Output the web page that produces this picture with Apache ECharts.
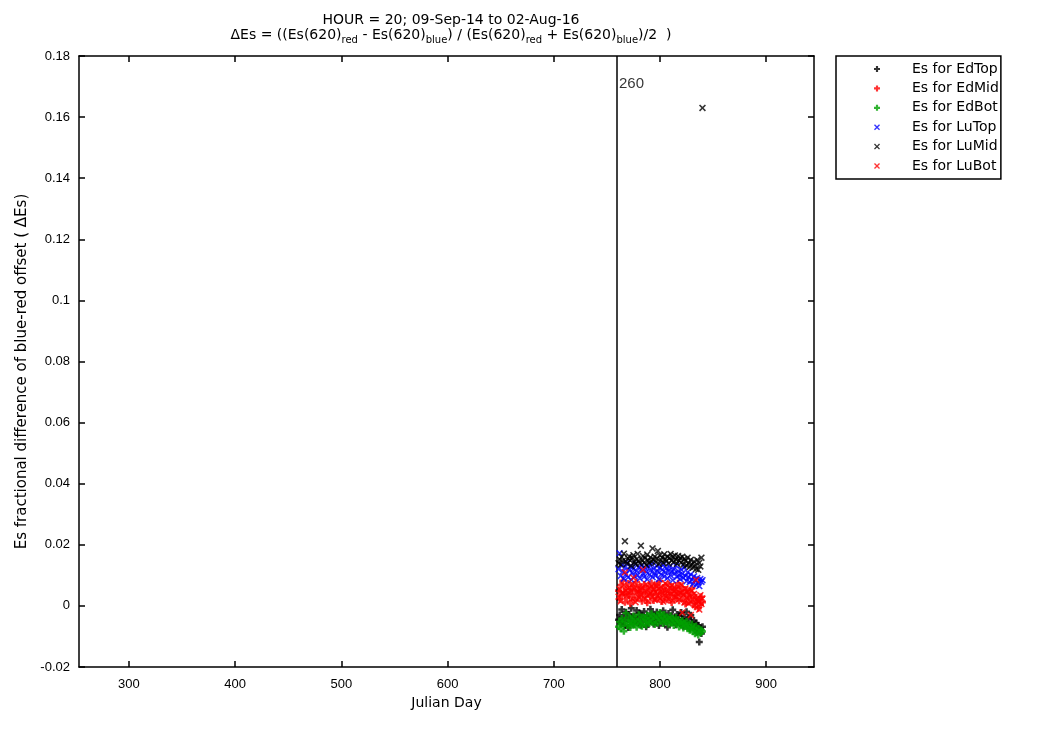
<!DOCTYPE html>
<html>
<head>
<meta charset="utf-8">
<script src="https://cdn.jsdelivr.net/npm/echarts@6/dist/echarts.min.js"></script>
<style>html,body{margin:0;padding:0;background:#fff}#c{width:1050px;height:750px}</style>
</head>
<body>
<div id="c"></div>
<script>
// ---- data ----
const days = [];
for (let d = 761; d <= 840; d++) days.push(d);

const edTop = [
-0.0045,-0.0030,-0.0058,-0.0012,-0.0050,-0.0036,-0.0065,-0.0021,-0.0042,-0.0071,
-0.0027,-0.0053,-0.0008,-0.0039,-0.0060,-0.0033,-0.0047,-0.0015,-0.0056,-0.0040,
-0.0024,-0.0063,-0.0035,-0.0049,-0.0018,-0.0044,-0.0068,-0.0031,-0.0055,-0.0038,
-0.0011,-0.0046,-0.0026,-0.0059,-0.0034,-0.0052,-0.0020,-0.0043,-0.0064,-0.0029,
-0.0048,-0.0037,-0.0016,-0.0057,-0.0032,-0.0045,-0.0070,-0.0025,-0.0041,-0.0054,
-0.0035,-0.0013,-0.0050,-0.0039,-0.0062,-0.0028,-0.0046,-0.0033,-0.0058,-0.0022,
-0.0044,-0.0067,-0.0036,-0.0051,-0.0019,-0.0060,-0.0042,-0.0074,-0.0031,-0.0055,
-0.0066,-0.0048,-0.0079,-0.0057,-0.0086,-0.0063,-0.0118,-0.0072,-0.0090,-0.0068
];
const edMid = [
0.0050,0.0021,0.0068,0.0035,0.0082,0.0044,0.0012,0.0059,0.0027,0.0073,
0.0040,0.0008,0.0055,0.0031,0.0066,0.0019,0.0047,0.0078,0.0025,0.0052,
0.0038,0.0062,0.0015,0.0045,0.0070,0.0029,0.0056,0.0010,0.0042,0.0064,
0.0033,0.0075,0.0048,0.0018,0.0060,0.0037,0.0069,0.0023,0.0051,0.0081,
0.0041,0.0014,0.0058,0.0030,0.0067,0.0046,0.0020,0.0072,0.0036,0.0054,
0.0011,0.0063,0.0043,0.0026,0.0057,0.0034,0.0074,0.0017,0.0049,0.0039,
0.0061,0.0022,0.0045,0.0006,0.0053,0.0032,0.0013,0.0047,0.0024,0.0058,
0.0009,0.0035,-0.0003,0.0028,0.0016,-0.0008,0.0021,0.0004,0.0030,0.0012
];
const edBot = [
-0.0068,-0.0052,-0.0075,-0.0041,-0.0060,-0.0083,-0.0047,-0.0024,-0.0065,-0.0055,
-0.0038,-0.0071,-0.0049,-0.0058,-0.0033,-0.0062,-0.0044,-0.0070,-0.0051,-0.0029,
-0.0059,-0.0046,-0.0067,-0.0036,-0.0054,-0.0042,-0.0063,-0.0031,-0.0048,-0.0057,
-0.0040,-0.0026,-0.0053,-0.0035,-0.0061,-0.0044,-0.0030,-0.0056,-0.0039,-0.0022,
-0.0047,-0.0034,-0.0058,-0.0028,-0.0043,-0.0052,-0.0037,-0.0060,-0.0045,-0.0033,
-0.0055,-0.0041,-0.0064,-0.0050,-0.0038,-0.0057,-0.0046,-0.0069,-0.0053,-0.0061,
-0.0048,-0.0072,-0.0058,-0.0066,-0.0051,-0.0075,-0.0063,-0.0080,-0.0070,-0.0059,
-0.0085,-0.0073,-0.0091,-0.0067,-0.0082,-0.0095,-0.0076,-0.0088,-0.0079,-0.0084
];
const luTop = [
0.0120,0.0172,0.0098,0.0135,0.0112,0.0089,0.0126,0.0104,0.0141,0.0093,
0.0117,0.0130,0.0085,0.0109,0.0122,0.0097,0.0138,0.0114,0.0101,0.0127,
0.0090,0.0119,0.0133,0.0106,0.0095,0.0124,0.0111,0.0087,0.0129,0.0102,
0.0116,0.0136,0.0094,0.0121,0.0108,0.0099,0.0131,0.0113,0.0088,0.0125,
0.0103,0.0118,0.0134,0.0096,0.0110,0.0123,0.0091,0.0115,0.0128,0.0100,
0.0112,0.0084,0.0120,0.0107,0.0132,0.0095,0.0114,0.0101,0.0088,0.0119,
0.0105,0.0092,0.0126,0.0098,0.0081,0.0110,0.0094,0.0078,0.0103,0.0086,
0.0072,0.0097,0.0083,0.0069,0.0091,0.0076,0.0065,0.0088,0.0079,0.0084
];
const luMid = [
0.0140,0.0152,0.0135,0.0160,0.0148,0.0171,0.0212,0.0145,0.0138,0.0155,
0.0162,0.0149,0.0131,0.0158,0.0166,0.0144,0.0137,0.0153,0.0170,0.0147,
0.0139,0.0197,0.0151,0.0163,0.0142,0.0156,0.0134,0.0168,0.0149,0.0140,
0.0159,0.0146,0.0188,0.0152,0.0161,0.0143,0.0155,0.0180,0.0137,0.0166,
0.0150,0.0158,0.0141,0.0169,0.0153,0.0147,0.0162,0.0139,0.0157,0.0170,
0.0148,0.0160,0.0144,0.0165,0.0152,0.0138,0.0163,0.0149,0.0157,0.0142,
0.0161,0.0135,0.0154,0.0147,0.0132,0.0158,0.0140,0.0128,0.0151,0.0136,
0.0125,0.0145,0.0133,0.0121,0.0150,0.0118,0.0141,0.0129,0.0158,0.1630
];
const luBot = [
0.0030,0.0055,0.0015,0.0040,0.0042,0.0068,0.0110,0.0050,0.0035,0.0045,
0.0061,0.0020,0.0047,0.0072,0.0092,0.0057,0.0012,0.0044,0.0066,0.0027,
0.0052,0.0038,0.0060,0.0118,0.0023,0.0049,0.0071,0.0034,0.0016,0.0058,
0.0041,0.0065,0.0029,0.0053,0.0019,0.0046,0.0070,0.0033,0.0056,0.0024,
0.0062,0.0039,0.0014,0.0051,0.0074,0.0031,0.0045,0.0022,0.0059,0.0037,
0.0067,0.0018,0.0048,0.0028,0.0054,0.0040,0.0063,0.0021,0.0043,0.0069,
-0.0022,0.0036,0.0011,0.0057,0.0026,0.0045,0.0008,0.0034,-0.0030,0.0050,
0.0019,0.0039,0.0002,0.0085,0.0016,0.0013,-0.0012,0.0035,0.0006,0.0024
];

const seriesNames = ['Es for EdTop','Es for EdMid','Es for EdBot','Es for LuTop','Es for LuMid','Es for LuBot'];
const xTicks = [300, 400, 500, 600, 700, 800, 900];
const xMin = 253, xMax = 945;
const yMin = -0.02, yMax = 0.18, yStep = 0.02;
const lineDay = 759;
const lineLabel = '260';
const lineLabelY = 0.1708;

// ---- chart ----
const FONT = 'Liberation Sans, Arial, sans-serif';
const WFONT = 'DejaVu Sans, sans-serif';
const PLUS = 'path://M1.6,0H3.4V1.6H5V3.4H3.4V5H1.6V3.4H0V1.6H1.6Z';
const CROSS = 'path://M0,1.6L1.6,0L5,3.4L8.4,0L10,1.6L6.6,5L10,8.4L8.4,10L5,6.6L1.6,10L0,8.4L3.4,5Z';
const colors = ['#000000','#ff0000','#00a000','#0000ff','#000000','#ff0000'];
const allVals = [edTop, edMid, edBot, luTop, luMid, luBot];

function pts(vals){ return vals.map((v,i)=>[days[i], v]); }

const series = allVals.map((vals, k) => ({
  name: seriesNames[k],
  type: 'scatter',
  data: pts(vals),
  symbol: k < 3 ? PLUS : CROSS,
  symbolSize: 7,
  itemStyle: { color: colors[k] },
  z: 3 + k,
  silent: true
}));

series.push({
  name: 'vline',
  type: 'scatter',
  data: [[lineDay, lineLabelY]],
  symbol: 'circle',
  symbolSize: 1,
  itemStyle: { color: 'rgba(0,0,0,0)' },
  silent: true,
  label: { show: true, position: 'right', distance: 2, formatter: lineLabel, color: '#000', fontFamily: FONT, fontSize: 15 },
  markLine: {
    silent: true, symbol: 'none',
    label: { show: false },
    lineStyle: { color: '#000', width: 1.5, type: 'solid' },
    data: [{ xAxis: lineDay }]
  }
});

const chart = echarts.init(document.getElementById('c'), null, { renderer: 'canvas' });
chart.setOption({
  animation: false,
  backgroundColor: '#fff',
  title: {
    left: 446, top: 8, textAlign: 'center',
    text: 'HOUR = 20; 09-Sep-14 to 02-Aug-16\n{m|ΔEs = ((Es(620)}{s|red}{m| - Es(620)}{s|blue}{m|) / (Es(620)}{s|red}{m| + Es(620)}{s|blue}{m|)/2  )}',
    textStyle: {
      fontFamily: WFONT, fontSize: 14, fontWeight: 'normal', color: '#000', lineHeight: 15,
      rich: {
        m: { fontFamily: WFONT, fontSize: 14, color: '#000', lineHeight: 15 },
        s: { fontFamily: WFONT, fontSize: 10, color: '#000', padding: [10, 0, 0, 0], lineHeight: 15 }
      }
    }
  },
  legend: {
    left: 836, top: 56, orient: 'vertical',
    data: seriesNames,
    itemWidth: 60, itemHeight: 6, itemGap: 5.4,
    padding: [6, 2, 6, 38],
    borderColor: '#000', borderWidth: 1.5,
    textStyle: { fontFamily: WFONT, fontSize: 14, color: '#000' },
    selectedMode: false
  },
  grid: { left: 79, right: 236, top: 56, bottom: 83, containLabel: false },
  xAxis: [{
    type: 'value', min: xMin, max: xMax,
    name: 'Julian Day', nameLocation: 'middle', nameGap: 27,
    nameTextStyle: { fontFamily: WFONT, fontSize: 14, color: '#000' },
    axisLine: { show: true, onZero: false, lineStyle: { color: '#000', width: 1.5 } },
    axisTick: { show: true, inside: true, length: 6, customValues: xTicks, lineStyle: { color: '#000', width: 1.5 } },
    axisLabel: { customValues: xTicks, fontFamily: FONT, fontSize: 13, color: '#000', margin: 11 },
    splitLine: { show: false }
  }, {
    type: 'value', position: 'top', min: xMin, max: xMax,
    axisLine: { show: true, onZero: false, lineStyle: { color: '#000', width: 1.5 } },
    axisTick: { show: true, inside: true, length: 6, customValues: xTicks, lineStyle: { color: '#000', width: 1.5 } },
    axisLabel: { show: false }, splitLine: { show: false }
  }],
  yAxis: [{
    type: 'value', min: yMin, max: yMax, interval: yStep,
    name: 'Es fractional difference of blue-red offset ( ΔEs)', nameLocation: 'middle', nameGap: 46,
    nameTextStyle: { fontFamily: WFONT, fontSize: 15, color: '#000', padding: [0, 20, 0, 0] },
    axisLine: { show: true, onZero: false, lineStyle: { color: '#000', width: 1.5 } },
    axisTick: { show: true, inside: true, length: 6, lineStyle: { color: '#000', width: 1.5 } },
    axisLabel: { fontFamily: FONT, fontSize: 13, color: '#000', margin: 9, formatter: v => String(Math.round(v*100)/100) },
    splitLine: { show: false }
  }, {
    type: 'value', position: 'right', min: yMin, max: yMax, interval: yStep,
    axisLine: { show: true, onZero: false, lineStyle: { color: '#000', width: 1.5 } },
    axisTick: { show: true, inside: true, length: 6, lineStyle: { color: '#000', width: 1.5 } },
    axisLabel: { show: false }, splitLine: { show: false }
  }],
  series: series
});
</script>
</body>
</html>
